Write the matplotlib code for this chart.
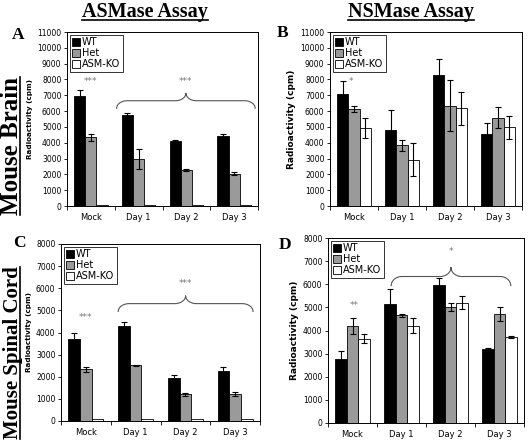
import matplotlib
matplotlib.use("Agg")
import matplotlib.pyplot as plt
import numpy as np
from matplotlib.lines import Line2D

categories = ["Mock", "Day 1", "Day 2", "Day 3"]
series = ["WT", "Het", "ASM-KO"]

# Panel A: ASMase, brain
A_wt = [6950, 5750, 4100, 4420]; A_wt_err = [400, 150, 100, 150]
A_het = [4350, 3000, 2300, 2030]; A_het_err = [220, 630, 60, 100]
A_ko = [60, 50, 50, 40]; A_ko_err = [0, 0, 0, 0]
# Panel B: NSMase, brain
B_wt = [7050, 4800, 8300, 4550]; B_wt_err = [850, 1300, 1000, 700]
B_het = [6150, 3850, 6350, 5580]; B_het_err = [200, 350, 1600, 650]
B_ko = [4930, 2930, 6180, 4970]; B_ko_err = [630, 1030, 1050, 750]
# Panel C: ASMase, spinal cord
C_wt = [3720, 4300, 1950, 2280]; C_wt_err = [250, 170, 130, 150]
C_het = [2330, 2510, 1200, 1220]; C_het_err = [100, 30, 60, 70]
C_ko = [80, 80, 70, 90]; C_ko_err = [0, 0, 0, 0]
# Panel D: NSMase, spinal cord
D_wt = [2750, 5150, 5950, 3200]; D_wt_err = [370, 650, 300, 60]
D_het = [4200, 4650, 5000, 4700]; D_het_err = [330, 80, 170, 300]
D_ko = [3650, 4200, 5200, 3720]; D_ko_err = [180, 320, 280, 30]

colors = ["#000000", "#9a9a9a", "#ffffff"]

W, H = 528, 442
fig = plt.figure(figsize=(W / 100, H / 100), dpi=100)

def px_axes(l, t, r, b):
    return fig.add_axes([l / W, 1 - b / H, (r - l) / W, (b - t) / H])

panels = [
    dict(rect=(67, 32, 258, 206), vals=(A_wt, A_het, A_ko), errs=(A_wt_err, A_het_err, A_ko_err),
         ymax=11000, step=1000, letter="A", lpos=(12, 27), ylfs=5.2,
         stars=[("***", 0, 7870)], brace=(0.54, 3.44, 6180, 7130), bstar=("***", 7870)),
    dict(rect=(330, 32, 522, 206), vals=(B_wt, B_het, B_ko), errs=(B_wt_err, B_het_err, B_ko_err),
         ymax=11000, step=1000, letter="B", lpos=(277, 25), ylfs=6.5,
         stars=[("*", -0.06, 7900)], brace=None, bstar=None),
    dict(rect=(61, 244, 260, 421), vals=(C_wt, C_het, C_ko), errs=(C_wt_err, C_het_err, C_ko_err),
         ymax=8000, step=1000, letter="C", lpos=(13, 235), ylfs=5.2,
         stars=[("***", 0.0, 4680)], brace=(0.65, 3.36, 4950, 5660), bstar=("***", 6220)),
    dict(rect=(328, 238, 524, 423), vals=(D_wt, D_het, D_ko), errs=(D_wt_err, D_het_err, D_ko_err),
         ymax=8000, step=1000, letter="D", lpos=(279, 237), ylfs=6.5,
         stars=[("**", 0.03, 5070)], brace=(0.79, 3.23, 5940, 6730), bstar=("*", 7420)),
]

bw = 0.235
x = np.arange(len(categories))

def draw_brace(ax, x0, x1, y0, ytop):
    xm = (x0 + x1) / 2
    yh = y0 + (ytop - y0) * 0.5
    r = 0.22
    t = np.linspace(0, np.pi / 2, 25)
    xs = list(x0 + r * (1 - np.cos(t))) + list(xm - r + r * np.sin(t))
    ys = list(y0 + (yh - y0) * np.sin(t)) + list(yh + (ytop - yh) * (1 - np.cos(t)))
    xs_r = [2 * xm - v for v in xs[::-1]]
    ys_r = ys[::-1]
    ax.plot(xs + xs_r, ys + ys_r, color="#555555", lw=0.8, clip_on=False)

for p in panels:
    ax = px_axes(*p["rect"])
    for i, (v, e, c) in enumerate(zip(p["vals"], p["errs"], colors)):
        pos = x + (i - 1) * bw
        ax.bar(pos, v, width=bw, color=c, edgecolor="black", linewidth=0.6, zorder=2,
               label=series[i])
        ee = np.array(e)
        if ee.any():
            ax.errorbar(pos, v, yerr=ee, fmt="none", ecolor="black", elinewidth=0.8,
                        capsize=2.5, capthick=0.8, zorder=3)
    ax.set_xlim(-0.5, 3.5)
    ax.set_ylim(0, p["ymax"])
    ax.set_yticks(np.arange(0, p["ymax"] + 1, p["step"]))
    ax.tick_params(axis="y", labelsize=5.5, length=2.5, width=0.6, pad=1.5)
    ax.set_xticks(np.arange(-0.5, 3.6, 1))
    ax.set_xticklabels([])
    ax.set_xticks(x, minor=True)
    ax.set_xticklabels(categories, minor=True, fontsize=6)
    ax.tick_params(axis="x", which="major", length=3, width=0.6)
    ax.tick_params(axis="x", which="minor", length=0, pad=5)
    for s in ax.spines.values():
        s.set_linewidth(0.7)
    ax.set_ylabel("Radioactivity (cpm)", fontsize=p["ylfs"], fontweight="bold", labelpad=3)
    leg = ax.legend(loc="upper left", fontsize=7, frameon=True, fancybox=False,
                    edgecolor="black", handlelength=0.8, handleheight=0.8, handletextpad=0.2,
                    borderpad=0.25, labelspacing=0.1, borderaxespad=0.3)
    leg.get_frame().set_linewidth(0.7)
    for txt, xx, yy in p["stars"]:
        ax.text(xx, yy, txt, ha="center", va="center", fontsize=6.5, color="#777777")
    if p["brace"]:
        x0, x1, y0, yt = p["brace"]
        draw_brace(ax, x0, x1, y0, yt)
        bt, by = p["bstar"]
        ax.text((x0 + x1) / 2, by, bt, ha="center", va="center", fontsize=6.5, color="#777777")
    lx, ly = p["lpos"]
    fig.text(lx / W, 1 - ly / H, p["letter"], fontsize=12.5, fontweight="bold",
             family="Liberation Serif", ha="left", va="top")

heads = [fig.text(145 / W, 1 - 17 / H, "ASMase Assay", fontsize=14.5, fontweight="bold",
                  family="Liberation Serif", ha="center", va="baseline"),
         fig.text(411 / W, 1 - 17 / H, "NSMase Assay", fontsize=14.5, fontweight="bold",
                  family="Liberation Serif", ha="center", va="baseline"),
         fig.text(18 / W, 1 - 146 / H, "Mouse Brain", fontsize=18, fontweight="bold",
                  family="Liberation Serif", ha="center", va="baseline", rotation=90,
                  rotation_mode="anchor"),
         fig.text(18 / W, 1 - 353 / H, "Mouse Spinal Cord", fontsize=15, fontweight="bold",
                  family="Liberation Serif", ha="center", va="baseline", rotation=90,
                  rotation_mode="anchor")]

fig.canvas.draw()
rend = fig.canvas.get_renderer()
for i, h in enumerate(heads):
    bb = h.get_window_extent(rend)
    if i < 2:
        yy = (H - 19.5) / H
        fig.add_artist(Line2D([bb.x0 / W, bb.x1 / W], [yy, yy], color="black", lw=1.2))
    else:
        xx = 20 / W
        fig.add_artist(Line2D([xx, xx], [bb.y0 / H, bb.y1 / H], color="black", lw=1.2))

fig.savefig("out.png", dpi=100)
